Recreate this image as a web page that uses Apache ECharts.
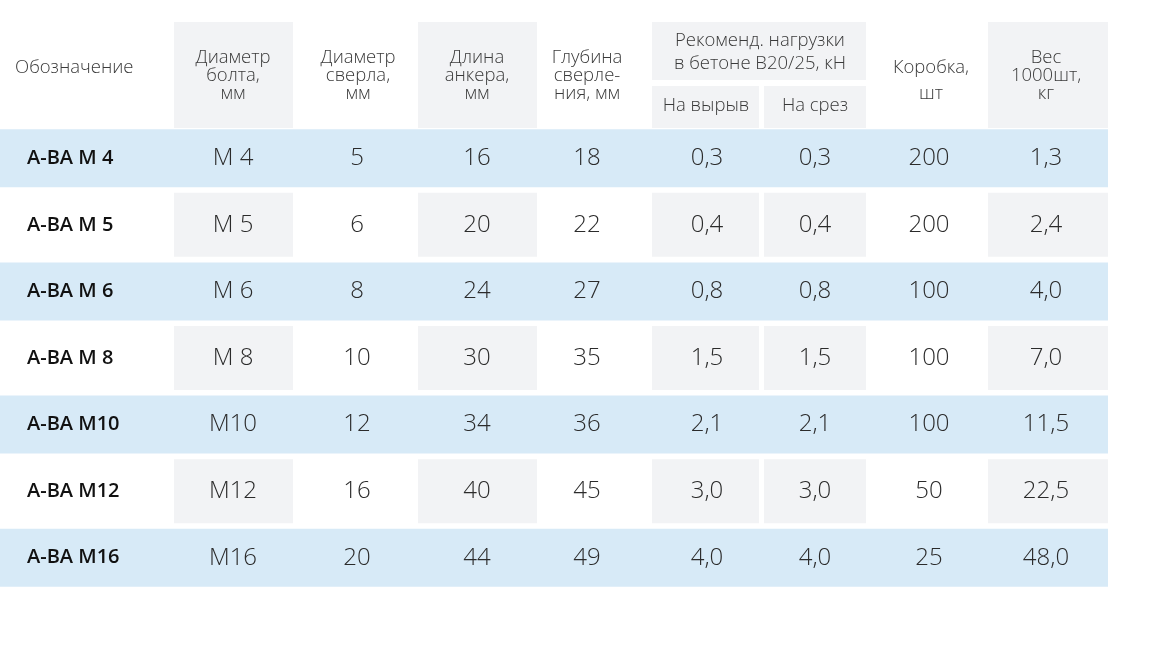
<!DOCTYPE html>
<html>
<head>
<meta charset="utf-8">
<script src="https://cdn.jsdelivr.net/npm/echarts@6/dist/echarts.min.js"></script>
<style>
html,body{margin:0;padding:0;background:#fff;}
#main{width:1152px;height:648px;}
</style>
</head>
<body>
<div id="main"></div>
<script>
/* данные таблицы */
var designations = ['A-BA M 4','A-BA M 5','A-BA M 6','A-BA M 8','A-BA M10','A-BA M12','A-BA M16'];
var boltDiam = ['M 4','M 5','M 6','M 8','M10','M12','M16'];
var drillDiam = [5, 6, 8, 10, 12, 16, 20];
var anchorLen = [16, 20, 24, 30, 34, 40, 44];
var drillDepth = [18, 22, 27, 35, 36, 45, 49];
var loadPull = [0.3, 0.4, 0.8, 1.5, 2.1, 3.0, 4.0];
var loadShear = [0.3, 0.4, 0.8, 1.5, 2.1, 3.0, 4.0];
var boxQty = [200, 200, 100, 100, 100, 50, 25];
var weight1000 = [1.3, 2.4, 4.0, 7.0, 11.5, 22.5, 48.0];

var headerLabels = ['Обозначение','Диаметр\nболта,\nмм','Диаметр\nсверла,\nмм','Длина\nанкера,\nмм',
    'Глубина\nсверле-\nния, мм','Рекоменд. нагрузки\nв бетоне В20/25, кН','На вырыв','На срез','Коробка,\nшт','Вес\n1000шт,\nкг'];

function fmt(v){ return v.toFixed(1).replace('.', ','); }

var columns = [designations, boltDiam, drillDiam, anchorLen, drillDepth,
    loadPull.map(fmt), loadShear.map(fmt), boxQty, weight1000.map(fmt)];

/* разметка колонок */
var colEdges = [[0,170],[174,293],[297,414],[418,537],[541,648],[652,759],[764,866],[870,984],[988,1108]];
var colTextX = [27, 233, 357, 477, 587, 707, 815, 929, 1046];
var grayCols = [1, 3, 5, 6, 8];
var tableRight = 1108;

var headerCells = [
    {x:[0,170],   y:[0,106], bg:false, tx:15,   ty:46, lh:18, align:'left'},
    {x:[174,293], y:[0,106], bg:true,  tx:233,  ty:54, lh:18},
    {x:[297,414], y:[0,106], bg:false, tx:358,  ty:54, lh:18},
    {x:[418,537], y:[0,106], bg:true,  tx:477,  ty:54, lh:18},
    {x:[541,648], y:[0,106], bg:false, tx:587,  ty:54, lh:18},
    {x:[652,866], y:[0,58],  bg:true,  tx:760,  ty:30, lh:23},
    {x:[652,759], y:[64,106],bg:true,  tx:706,  ty:84, lh:18},
    {x:[764,866], y:[64,106],bg:true,  tx:815,  ty:84, lh:18},
    {x:[870,984], y:[0,106], bg:false, tx:931,  ty:59, lh:26},
    {x:[988,1108],y:[0,106], bg:true,  tx:1046, ty:54, lh:18}
];

var BLUE = '#d7eaf7', GRAY = '#f2f3f5';
var FONT = '"Open Sans", "Noto Sans", sans-serif';

function renderHeader(params, api){
    var c = headerCells[params.dataIndex];
    var p0 = api.coord([c.x[0], c.y[0]]);
    var p1 = api.coord([c.x[1], c.y[1]]);
    var pt = api.coord([c.tx, c.ty]);
    var children = [];
    if (c.bg) {
        children.push({type:'rect', shape:{x:p0[0], y:Math.min(p0[1],p1[1]), width:p1[0]-p0[0], height:Math.abs(p1[1]-p0[1])},
            style:{fill:GRAY}});
    }
    children.push({type:'text', style:{x:pt[0], y:pt[1], text:headerLabels[params.dataIndex],
        align:c.align || 'center', verticalAlign:'middle', lineHeight:c.lh,
        font:'300 18.5px ' + FONT, fill:'#3a3a3a'}});
    return {type:'group', children:children};
}

function renderRow(params, api){
    var r = params.dataIndex;
    var yc = api.coord([0, r])[1];
    var children = [];
    if (r % 2 === 0) {
        var a = api.coord([0, r]), b = api.coord([tableRight, r]);
        children.push({type:'rect', shape:{x:a[0], y:yc-29, width:b[0]-a[0], height:58}, style:{fill:BLUE}});
    } else {
        grayCols.forEach(function(ci){
            var a = api.coord([colEdges[ci][0], r]), b = api.coord([colEdges[ci][1], r]);
            children.push({type:'rect', shape:{x:a[0], y:yc-32, width:b[0]-a[0], height:64}, style:{fill:GRAY}});
        });
    }
    columns.forEach(function(col, ci){
        var x = api.coord([colTextX[ci], r])[0];
        children.push({type:'text', style:{x:x, y:yc, text:String(col[r]),
            align: ci === 0 ? 'left' : 'center', verticalAlign:'middle',
            font: ci === 0 ? '600 20px ' + FONT : '300 24px ' + FONT,
            fill: ci === 0 ? '#111' : '#2b2b2b'}});
    });
    return {type:'group', children:children};
}

var myChart = echarts.init(document.getElementById('main'));
var option = {
    animation:false,
    grid:[
        {left:0, right:0, top:125, height:466},
        {left:0, right:0, top:22, height:106}
    ],
    xAxis:[
        {type:'value', min:0, max:1152, show:false, gridIndex:0},
        {type:'value', min:0, max:1152, show:false, gridIndex:1}
    ],
    yAxis:[
        {type:'category', data:designations, inverse:true, show:false, gridIndex:0},
        {type:'value', min:0, max:106, inverse:true, show:false, gridIndex:1}
    ],
    series:[
        {
            type:'custom',
            xAxisIndex:1, yAxisIndex:1,
            renderItem:renderHeader,
            data:headerCells.map(function(c, i){ return [c.tx, c.ty]; })
        },
        {
            type:'custom',
            xAxisIndex:0, yAxisIndex:0,
            renderItem:renderRow,
            data:designations.map(function(d, i){ return [0, i]; })
        }
    ]
};
myChart.setOption(option);
</script>
</body>
</html>
